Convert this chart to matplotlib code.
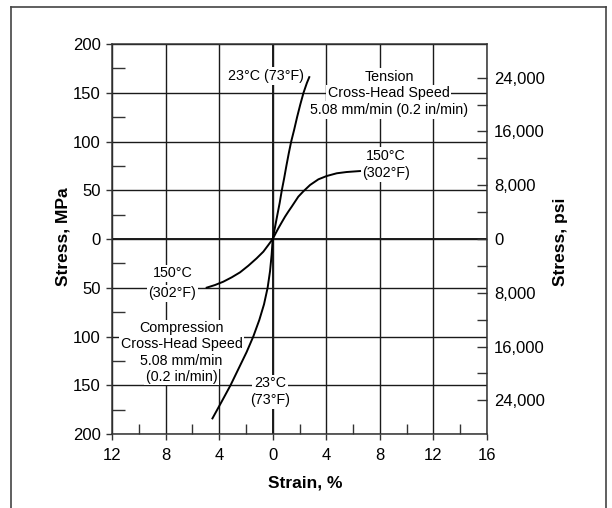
import matplotlib
matplotlib.use("Agg")
import matplotlib.pyplot as plt
from matplotlib.ticker import FixedLocator, FuncFormatter
from matplotlib.lines import Line2D

plt.rcParams['font.family'] = ['Liberation Sans', 'DejaVu Sans']

# ---- data (strain %, stress MPa) ----
tension_23_strain = [0, 0.17, 0.35, 0.52, 0.68, 0.85, 1.02, 1.2, 1.38, 1.6, 1.82, 2.06, 2.3, 2.55, 2.73]
tension_23_stress = [0, 12, 25, 37, 50, 62, 75, 88, 100, 112, 125, 138, 150, 160, 166]

tension_150_strain = [0, 0.2, 0.42, 0.67, 0.92, 1.17, 1.42, 1.67, 1.91, 2.29, 2.79, 3.41, 4.03, 4.78, 5.52, 6.52]
tension_150_stress = [0, 5.3, 11.0, 17.0, 22.9, 28.2, 33.2, 38.4, 43.4, 48.9, 55.4, 61.2, 64.6, 67.4, 68.7, 69.7]

comp_23_strain = [0, -0.08, -0.2, -0.38, -0.65, -1.0, -1.45, -1.95, -2.55, -3.15, -3.82, -4.5]
comp_23_stress = [0, -16, -33, -50, -67, -83, -100, -116, -133, -150, -167, -184]

comp_150_strain = [0, -0.33, -0.70, -1.20, -1.82, -2.44, -3.06, -3.69, -4.31, -4.93]
comp_150_stress = [0, -6.2, -13.0, -19.8, -27.4, -34.2, -39.3, -43.8, -47.2, -49.9]

x_major = [-12, -8, -4, 0, 4, 8, 12, 16]
x_minor = [-10, -6, -2, 2, 6, 10, 14]
y_major = [-200, -150, -100, -50, 0, 50, 100, 150, 200]
y_minor = [-175, -125, -75, -25, 25, 75, 125, 175]
psi_major = [-24000, -16000, -8000, 0, 8000, 16000, 24000]
psi_minor = [-20000, -12000, -4000, 4000, 12000, 20000]
MPA_TO_PSI = 145.038

# ---- figure ----
fig = plt.figure(figsize=(6.12, 5.08), dpi=100)
ax = fig.add_axes([112/612, 1-434/508, 375/612, 390/508])
ax.set_xlim(-12, 16)
ax.set_ylim(-200, 200)

ink = '#1a1a1a'
for s in ax.spines.values():
    s.set_linewidth(1.1)
    s.set_color('#333333')

ax.xaxis.set_major_locator(FixedLocator(x_major))
ax.xaxis.set_minor_locator(FixedLocator(x_minor))
ax.yaxis.set_major_locator(FixedLocator(y_major))
ax.yaxis.set_minor_locator(FixedLocator(y_minor))
absfmt = FuncFormatter(lambda v, p: f"{abs(int(round(v)))}")
ax.xaxis.set_major_formatter(absfmt)
ax.yaxis.set_major_formatter(absfmt)
ax.tick_params(which='major', direction='out', length=4, width=1, color='#333333',
               labelsize=12, pad=4)
ax.tick_params(axis='x', which='major', pad=6)
ax.tick_params(axis='y', which='minor', direction='in', length=9, width=1, color='#333333')
ax.tick_params(axis='x', which='minor', direction='in', length=7, width=1, color='#333333')
ax.yaxis.tick_left()
ax.xaxis.tick_bottom()

ax.set_axisbelow(True)
ax.grid(True, which='major', color=ink, linewidth=1.0)
ax.axhline(0, color=ink, linewidth=1.4, zorder=1)
ax.axvline(0, color=ink, linewidth=1.4, zorder=1)

# right axis in psi
ax2 = ax.twinx()
ax2.set_ylim(-200*MPA_TO_PSI, 200*MPA_TO_PSI)
ax2.yaxis.set_major_locator(FixedLocator(psi_major))
ax2.yaxis.set_minor_locator(FixedLocator(psi_minor))
ax2.yaxis.set_major_formatter(FuncFormatter(lambda v, p: f"{abs(int(round(v))):,}"))
ax2.tick_params(which='both', direction='in', length=7, width=1, color='#333333',
                labelsize=12, pad=5)
for s in ax2.spines.values():
    s.set_visible(False)

# curves
lw = 1.4
ax.plot(tension_23_strain, tension_23_stress, color='black', lw=lw, zorder=5)
ax.plot(tension_150_strain, tension_150_stress, color='black', lw=lw, zorder=5)
ax.plot(comp_23_strain, comp_23_stress, color='black', lw=lw, zorder=5)
ax.plot(comp_150_strain, comp_150_stress, color='black', lw=lw, zorder=5)

# annotations (white boxes break the grid)
box = dict(facecolor='white', edgecolor='none', pad=1.2)
fs = 10.3
def lab(x, y, s):
    ax.text(x, y, s, ha='center', va='center', fontsize=fs, color='black',
            bbox=box, zorder=3)

lab(-0.5, 167, "23°C (73°F)")
lab(8.69, 166, "Tension")
lab(8.65, 149.4, "Cross-Head Speed")
lab(8.69, 132.3, "5.08 mm/min (0.2 in/min)")
lab(8.44, 85.1, "150°C")
lab(8.44, 67.4, "(302°F)")
lab(-7.5, -35.2, "150°C")
lab(-7.5, -55.7, "(302°F)")
lab(-6.8, -91.6, "Compression")
lab(-6.8, -108.0, "Cross-Head Speed")
lab(-6.8, -124.8, "5.08 mm/min")
lab(-6.8, -141.2, "(0.2 in/min)")
lab(-0.2, -148.0, "23°C")
lab(-0.2, -165.1, "(73°F)")

# axis labels
fig.text(63/612, 1-237/508, "Stress, MPa", rotation=90, ha='center', va='center',
         fontsize=12.5, fontweight='bold')
fig.text(560/612, 1-242/508, "Stress, psi", rotation=90, ha='center', va='center',
         fontsize=12.5, fontweight='bold')
fig.text(305/612, 1-483/508, "Strain, %", ha='center', va='center',
         fontsize=12.5, fontweight='bold')

# outer frame (left, top, right)
fc = '#444444'
fig.add_artist(Line2D([11/612, 11/612], [0, 1-7/508], transform=fig.transFigure, color=fc, lw=1.2))
fig.add_artist(Line2D([11/612, 606/612], [1-7/508, 1-7/508], transform=fig.transFigure, color=fc, lw=1.2))
fig.add_artist(Line2D([606/612, 606/612], [0, 1-7/508], transform=fig.transFigure, color=fc, lw=1.2))

fig.savefig("out.png", dpi=100)
